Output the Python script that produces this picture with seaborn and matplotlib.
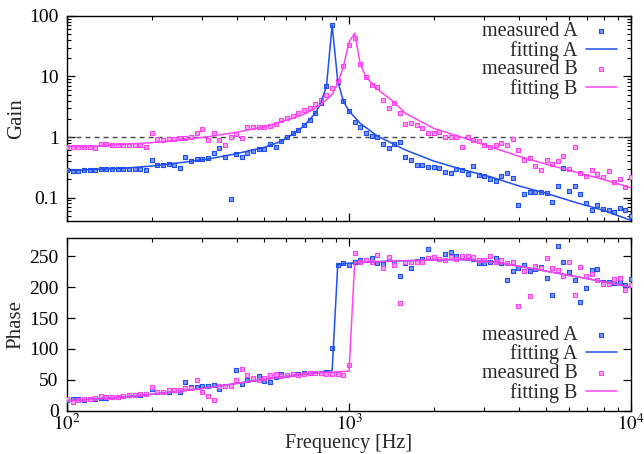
import numpy as np
import pandas as pd
import matplotlib
matplotlib.use("Agg")
import matplotlib.pyplot as plt
import matplotlib.ticker as mticker
import seaborn as sns

# ---------------- data ----------------
freq = [100, 104.7, 109.6, 114.8, 120.2, 125.9, 131.8, 138.0, 144.5, 151.4,
        158.5, 166.0, 173.8, 182.0, 190.5, 199.5, 208.9, 218.8, 229.1, 239.9,
        251.2, 263.0, 275.4, 288.4, 302.0, 316.2, 331.1, 346.7, 363.1, 380.2,
        398.1, 416.9, 436.5, 457.1, 478.6, 501.2, 524.8, 549.5, 575.4, 602.6,
        631.0, 660.7, 691.8, 724.4, 758.6, 794.3, 831.8, 871.0, 912.0, 955.0,
        1000, 1047, 1096, 1148, 1202, 1259, 1318, 1380, 1445, 1514,
        1585, 1660, 1738, 1820, 1905, 1995, 2089, 2188, 2291, 2399,
        2512, 2630, 2754, 2884, 3020, 3162, 3311, 3467, 3631, 3802,
        3981, 4169, 4365, 4571, 4786, 5012, 5248, 5495, 5754, 6026,
        6310, 6607, 6918, 7244, 7586, 7943, 8318, 8710, 9120, 9550, 10000]

gain_meas_A = [0.285, 0.278, 0.278, 0.288, 0.285, 0.285, 0.296, 0.293, 0.300, 0.300,
               0.300, 0.296, 0.296, 0.300, 0.285, 0.422, 0.348, 0.340, 0.353, 0.344,
               0.308, 0.462, 0.406, 0.428, 0.439, 0.455, 0.550, 0.666, 0.467, 0.0945,
               0.534, 0.476, 0.550, 0.587, 0.646, 0.626, 0.772, 0.690, 0.868, 0.99,
               1.151, 1.33, 1.58, 1.92, 2.51, 3.58, 6.91, 69.7, 8.2, 3.98,
               2.69, 1.80, 1.49, 1.151, 1.05, 1.01, 0.767, 0.671, 0.758, 0.833,
               0.467, 0.422, 0.344, 0.344, 0.319, 0.315, 0.304, 0.267, 0.251, 0.293,
               0.282, 0.247, 0.328, 0.232, 0.226, 0.205, 0.186, 0.226, 0.251, 0.213,
               0.0757, 0.115, 0.124, 0.124, 0.122, 0.120, 0.0836, 0.158, 0.311, 0.129,
               0.158, 0.116, 0.0825, 0.0621, 0.0742, 0.0645, 0.0626, 0.0569, 0.067, 0.0624,
               0.0500]

gain_meas_B = [0.692, 0.692, 0.692, 0.692, 0.692, 0.666, 0.758, 0.758, 0.738, 0.745,
               0.745, 0.745, 0.745, 0.745, 0.692, 1.18, 0.916, 0.892, 0.916, 0.916,
               0.952, 0.952, 0.989, 1.151, 1.37, 0.909, 1.151, 0.892, 0.743, 1.01,
               1.12, 0.955, 1.46, 1.48, 1.48, 1.45, 1.53, 1.64, 1.89, 2.06,
               2.25, 2.52, 2.79, 3.07, 3.51, 4.01, 4.89, 6.33, 8.27, 14.8,
               33.4, 42.8, 15.9, 9.70, 7.24, 6.63, 4.09, 3.05, 3.69, 2.52,
               1.64, 1.72, 1.58, 1.43, 1.18, 1.18, 1.22, 1.01, 0.989, 0.989,
               0.676, 1.01, 0.892, 0.868, 0.738, 0.692, 0.738, 0.787, 0.738, 0.920,
               0.605, 0.417, 0.445, 0.331, 0.287, 0.420, 0.364, 0.406, 0.491, 0.300,
               0.692, 0.251, 0.231, 0.288, 0.247, 0.220, 0.271, 0.181, 0.200, 0.148,
               0.220]

phase_meas_A = [17.3, 18.4, 18.9, 17.3, 18.9, 18.9, 21.1, 20.0, 22.1, 21.6,
                23.3, 24.9, 25.9, 25.9, 27.5, 34.6, 29.7, 30.3, 30.8, 32.9,
                30.3, 46.5, 37.8, 38.9, 39.4, 40.5, 41.5, 34.6, 40.0, 40.0,
                65.8, 43.2, 50.2, 50.7, 56.2, 48.5, 45.9, 54.5, 58.8, 57.2,
                58.8, 58.8, 60.5, 61.5, 61.5, 61.5, 63.1, 101.4, 236.0, 239.5,
                236.3, 240.6, 244.0, 244.0, 247.1, 239.5, 237.9, 245.0, 239.0, 218.4,
                240.0, 231.4, 242.0, 246.0, 261.7, 248.7, 246.0, 253.6, 257.9, 251.4,
                250.0, 248.0, 246.0, 239.0, 240.1, 241.1, 247.1, 239.0, 211.0, 226.5,
                232.0, 236.3, 226.5, 230.0, 233.0, 215.2, 186.7, 266.5, 241.1, 224.4,
                211.5, 175.9, 198.5, 227.7, 229.3, 208.7, 208.7, 206.1, 208.7, 202.9,
                213.6]

phase_meas_B = [18.9, 14.6, 17.3, 18.9, 19.4, 21.1, 23.3, 22.7, 22.2, 22.2,
                24.3, 24.9, 25.9, 26.5, 27.5, 38.8, 29.7, 30.3, 33.5, 34.0,
                34.0, 36.2, 37.2, 50.2, 29.7, 23.8, 17.3, 40.0, 40.5, 40.5,
                49.7, 67.5, 58.3, 53.4, 50.2, 52.4, 57.2, 59.4, 56.6, 57.2,
                58.9, 58.3, 59.4, 60.5, 60.5, 60.5, 59.9, 59.9, 59.4, 57.2,
                73.9, 255.2, 240.6, 244.3, 240.6, 252.4, 230.9, 248.7, 236.3, 174.8,
                240.6, 240.6, 241.7, 241.7, 247.1, 249.8, 246.0, 244.3, 248.7, 246.0,
                250.8, 250.8, 248.7, 244.3, 243.4, 250.8, 240.6, 243.4, 239.0, 240.6,
                169.9, 226.5, 186.1, 234.1, 231.4, 247.1, 231.4, 227.2, 218.4, 241.1,
                187.7, 233.0, 218.4, 221.2, 211.0, 205.0, 205.0, 212.6, 214.7, 195.3,
                203.9]

fit_gain_A_freq = [100, 125.9, 158.5, 199.5, 251.2, 316.2, 398.1, 501.2, 575.4, 631.0,
                   691.8, 758.6, 794.3, 831.8, 871.0, 912.0, 955.0, 1000, 1096, 1259,
                   1585, 1995, 2512, 3162, 3981, 5012, 6310, 7943, 10000]
fit_gain_A = [0.277, 0.292, 0.304, 0.332, 0.376, 0.433, 0.530, 0.676, 0.849, 1.108,
              1.52, 2.46, 3.61, 6.97, 70.2, 8.4, 3.89, 2.69, 1.68, 1.04,
              0.610, 0.401, 0.292, 0.221, 0.157, 0.117, 0.084, 0.062, 0.042]

fit_gain_B_freq = [100, 125.9, 158.5, 199.5, 251.2, 316.2, 398.1, 501.2, 631.0, 691.8,
                   758.6, 831.8, 871.0, 912.0, 955.0, 1000, 1047, 1096, 1148, 1259,
                   1445, 1585, 1995, 2512, 3162, 3981, 5012, 6310, 7943, 10000]
fit_gain_B = [0.691, 0.710, 0.757, 0.805, 0.892, 1.01, 1.196, 1.48, 2.04, 2.37,
              2.98, 4.09, 5.08, 7.7, 14.5, 37.0, 51.8, 16.1, 9.8, 6.21,
              3.75, 2.46, 1.39, 0.989, 0.691, 0.485, 0.354, 0.267, 0.200, 0.145]

fit_phase_A_freq = [100, 125.9, 158.5, 199.5, 251.2, 316.2, 398.1, 501.2, 631.0, 758.6,
                    831.8, 871.0, 912.0, 1000, 1259, 1585, 1905, 2512, 3311, 4365,
                    5754, 7586, 10000]
fit_phase_A = [16, 19, 22, 26.5, 31.5, 37, 44, 50.5, 57, 61,
               63, 65, 237, 239, 241.5, 243, 244, 245, 240.6, 231,
               221, 211, 200]

fit_phase_B_freq = [100, 125.9, 158.5, 199.5, 251.2, 316.2, 398.1, 501.2, 631.0, 758.6,
                    831.8, 912.0, 1000, 1047, 1259, 1585, 1905, 2512, 3311, 4365,
                    5754, 7586, 10000]
fit_phase_B = [16, 19, 22, 26.5, 31.5, 37, 44, 50.5, 57, 61,
               62, 63, 64, 240, 241.5, 243, 244, 245, 240.6, 231,
               221, 211, 200]

labels = ["measured A", "fitting A", "measured B", "fitting B"]
BLUE = "#1f4ff0"
PINK = "#ff44f0"

# ---------------- style ----------------
sns.set_theme(style="ticks")
plt.rcParams["font.family"] = ["Liberation Serif", "DejaVu Serif"]
plt.rcParams["mathtext.fontset"] = "stix"
plt.rcParams.update({
    "xtick.direction": "in", "ytick.direction": "in",
    "xtick.top": True, "ytick.right": True,
    "xtick.major.size": 5.5, "ytick.major.size": 5.5,
    "xtick.minor.size": 3, "ytick.minor.size": 3,
    "xtick.major.width": 0.9, "ytick.major.width": 0.9,
    "xtick.minor.width": 0.8, "ytick.minor.width": 0.8,
    "axes.linewidth": 1.0, "axes.edgecolor": "black",
    "xtick.color": "black", "ytick.color": "black",
    "xtick.labelsize": 13.5, "ytick.labelsize": 14,
    "axes.labelsize": 14.5,
})

fig = plt.figure(figsize=(6.44, 4.54), dpi=100)
ax1 = fig.add_axes([0.104, 0.513, 0.876, 0.452])
ax2 = fig.add_axes([0.104, 0.0955, 0.876, 0.3805])

meas = pd.DataFrame({"f": freq, "gA": gain_meas_A, "gB": gain_meas_B,
                     "pA": phase_meas_A, "pB": phase_meas_B})
fgA = pd.DataFrame({"f": fit_gain_A_freq, "v": fit_gain_A})
fgB = pd.DataFrame({"f": fit_gain_B_freq, "v": fit_gain_B})
fpA = pd.DataFrame({"f": fit_phase_A_freq, "v": fit_phase_A})
fpB = pd.DataFrame({"f": fit_phase_B_freq, "v": fit_phase_B})

mkw = dict(marker="s", s=11, linewidth=0.8, zorder=3)


def panel(ax, colA, colB, fitA, fitB):
    sns.scatterplot(data=meas, x="f", y=colA, ax=ax, color="#7f98ff",
                    edgecolor=BLUE, label=labels[0], **mkw)
    sns.lineplot(data=fitA, x="f", y="v", ax=ax, color=BLUE, lw=1.1,
                 estimator=None, sort=False, label=labels[1], zorder=4)
    sns.scatterplot(data=meas, x="f", y=colB, ax=ax, color="#ff9ff5",
                    edgecolor=PINK, label=labels[2], **mkw)
    sns.lineplot(data=fitB, x="f", y="v", ax=ax, color=PINK, lw=1.1,
                 estimator=None, sort=False, label=labels[3], zorder=5)


# ---- Gain panel ----
panel(ax1, "gA", "gB", fgA, fgB)
ax1.axhline(1, color="#444444", lw=1.0, ls=(0, (3.5, 3)), zorder=2)
ax1.set_xscale("log")
ax1.set_yscale("log")
ax1.set_xlim(100, 10000)
ax1.set_ylim(0.0409, 100)
ax1.yaxis.set_major_locator(mticker.FixedLocator([0.1, 1, 10, 100]))
ax1.yaxis.set_major_formatter(mticker.FixedFormatter(["0.1", "1", "10", "100"]))
ax1.yaxis.set_minor_locator(mticker.LogLocator(base=10, subs=np.arange(2, 10)))
ax1.yaxis.set_minor_formatter(mticker.NullFormatter())
ax1.xaxis.set_minor_locator(mticker.LogLocator(base=10, subs=np.arange(2, 10)))
ax1.xaxis.set_major_formatter(mticker.NullFormatter())
ax1.xaxis.set_minor_formatter(mticker.NullFormatter())
ax1.set_xlabel("")
ax1.set_ylabel("Gain", labelpad=2, fontsize=15)

# ---- Phase panel ----
panel(ax2, "pA", "pB", fpA, fpB)
ax2.set_xscale("log")
ax2.set_xlim(100, 10000)
ax2.set_ylim(0, 280)
ax2.set_yticks([0, 50, 100, 150, 200, 250])
ax2.xaxis.set_major_locator(mticker.FixedLocator([100, 1000, 10000]))
ax2.xaxis.set_major_formatter(mticker.FixedFormatter([r"$10^2$", r"$10^3$", r"$10^4$"]))
ax2.xaxis.set_minor_locator(mticker.LogLocator(base=10, subs=np.arange(2, 10)))
ax2.xaxis.set_minor_formatter(mticker.NullFormatter())
ax2.set_xlabel("Frequency [Hz]", labelpad=0)
ax2.set_ylabel("Phase", labelpad=3, fontsize=15)

for ax in (ax1, ax2):
    ax.tick_params(axis="both", which="major", pad=4)
    for sp in ax.spines.values():
        sp.set_visible(True)
ax2.tick_params(axis="y", which="major", pad=6)
ax1.tick_params(axis="y", which="major", pad=6)
ax2.tick_params(axis="x", which="major", pad=2.5)

legkw = dict(frameon=False, markerfirst=False, fontsize=14.5, handlelength=1.55,
             handletextpad=0.4, labelspacing=-0.02, borderpad=0.0, borderaxespad=0.0)
ax1.legend(loc="upper right", bbox_to_anchor=(0.975, 0.97), **legkw)
ax2.legend(loc="lower right", bbox_to_anchor=(0.975, 0.046), **legkw)

fig.savefig("out.png", dpi=100)
